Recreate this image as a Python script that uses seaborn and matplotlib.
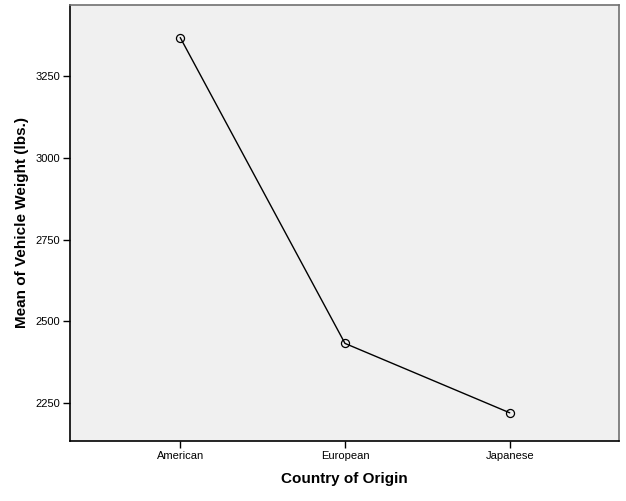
import matplotlib
matplotlib.use("Agg")
import matplotlib.pyplot as plt
import seaborn as sns
import pandas as pd

# Mean vehicle weight by country of origin
countries = ["American", "European", "Japanese"]
mean_weight = [3367, 2433, 2221]

df = pd.DataFrame({"Country of Origin": countries,
                   "Mean of Vehicle Weight (lbs.)": mean_weight})

sns.set_style("white")
plt.rcParams["font.family"] = ["Liberation Sans", "DejaVu Sans"]
plt.rcParams["text.color"] = "black"
plt.rcParams["axes.labelcolor"] = "black"
plt.rcParams["xtick.color"] = "black"
plt.rcParams["ytick.color"] = "black"

fig = plt.figure(figsize=(6.26, 5.01), dpi=100)
ax = fig.add_axes([0.1118, 0.1198, 0.8770, 0.8706])
ax.set_facecolor("#F0F0F0")

sns.lineplot(data=df, x="Country of Origin", y="Mean of Vehicle Weight (lbs.)",
             color="black", linewidth=1.0, marker="o", markersize=5.8,
             markerfacecolor="none", markeredgecolor="black", markeredgewidth=0.9,
             sort=False, ax=ax)

ax.set_xlim(-0.669, 2.663)
ax.set_ylim(2135, 3467)
ax.set_yticks([2250, 2500, 2750, 3000, 3250])
ax.tick_params(axis="both", direction="out", length=5, width=1, color="black",
               labelcolor="black", labelsize=8, pad=2, left=True, bottom=True)

for side in ["left", "bottom"]:
    ax.spines[side].set_color("black")
    ax.spines[side].set_linewidth(1.2)
for side in ["top", "right"]:
    ax.spines[side].set_visible(True)
    ax.spines[side].set_color("#707070")
    ax.spines[side].set_linewidth(1.2)

ax.set_xlabel("Country of Origin", fontsize=11, fontweight="bold", labelpad=8,
              color="black")
ax.set_ylabel("Mean of Vehicle Weight (lbs.)", fontsize=11, fontweight="bold",
              labelpad=5, color="black")

fig.savefig("out.png", dpi=100)
